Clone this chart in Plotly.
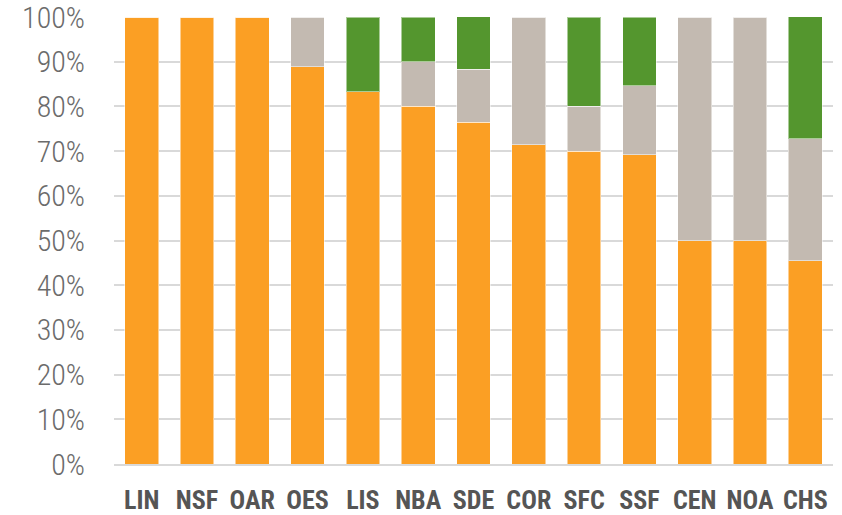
import plotly.graph_objects as go

categories = ["LIN", "NSF", "OAR", "OES", "LIS", "NBA", "SDE", "COR", "SFC", "SSF", "CEN", "NOA", "CHS"]
orange_vals = [100, 100, 100, 88.9, 83.3, 80.0, 76.5, 71.4, 70.0, 69.2, 50.0, 50.0, 45.5]
gray_vals = [0, 0, 0, 11.1, 0, 10.0, 11.8, 28.6, 10.0, 15.4, 50.0, 50.0, 27.3]
green_vals = [0, 0, 0, 0, 16.7, 10.0, 11.8, 0, 20.0, 15.4, 0, 0, 27.3]
y_ticks = [0, 10, 20, 30, 40, 50, 60, 70, 80, 90, 100]

series = [
    ("Orange", orange_vals, "#FB9F24"),
    ("Gray", gray_vals, "#C3BAB1"),
    ("Green", green_vals, "#54962E"),
]

FONT = "Roboto Condensed, Liberation Sans Narrow, DejaVu Sans Condensed, Roboto, sans-serif"

fig = go.Figure()
for name, vals, col in series:
    fig.add_trace(go.Bar(
        x=categories, y=vals, name=name,
        marker=dict(color=col, line=dict(color="rgba(255,255,255,0.5)", width=1)),
        hoverinfo="x+y",
    ))

fig.update_layout(
    barmode="stack",
    bargap=0.39,
    width=842, height=515,
    margin=dict(l=114, r=9, t=17, b=51, autoexpand=False),
    plot_bgcolor="white", paper_bgcolor="white",
    showlegend=False,
    font=dict(family=FONT, color="#595959"),
)
fig.update_yaxes(
    range=[0, 100], tickvals=y_ticks, ticktext=[f"{v}%" for v in y_ticks],
    showgrid=True, gridcolor="#D9D9D9", gridwidth=2,
    zeroline=False, showline=False,
    tickfont=dict(size=30, color="#6B6B6B", family=FONT, weight=300),
    ticks="", ticklabelstandoff=28, automargin=False,
    ticklabeloverflow="allow",
)
fig.update_xaxes(
    showline=True, linecolor="#D9D9D9", linewidth=2,
    tickfont=dict(size=26, color="#555555", family=FONT, weight="bold"),
    ticks="", ticklabelstandoff=12, automargin=False,
    ticklabeloverflow="allow",
)

fig.write_html(
    "out.html",
    config={"displayModeBar": False},
    post_script="document.body.style.margin='0';document.body.style.overflow='hidden';",
)
